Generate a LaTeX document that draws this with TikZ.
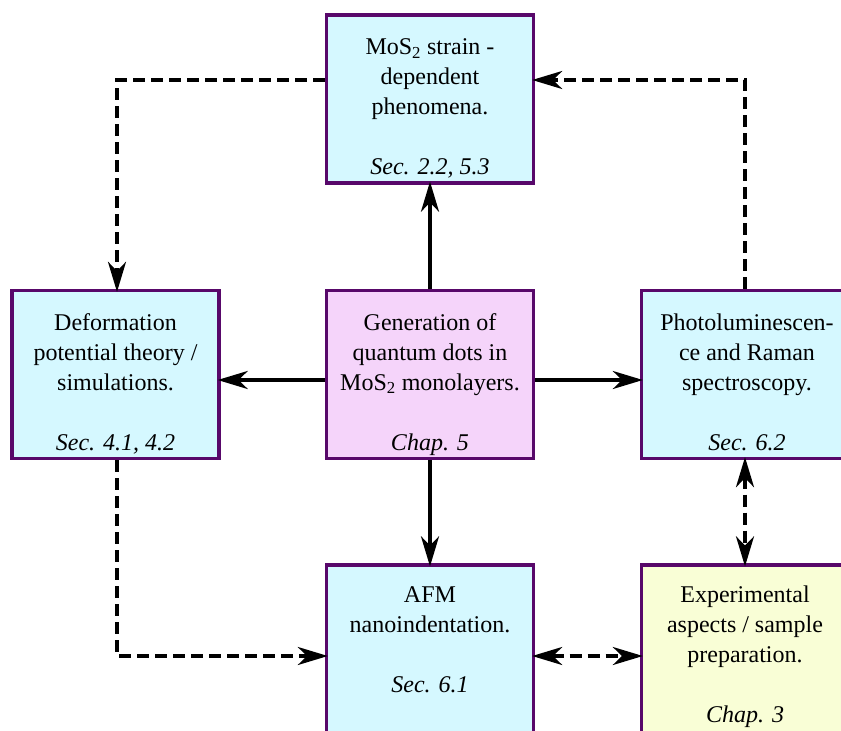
\documentclass[tikz,border=0pt]{standalone}
\usepackage{fontspec}
\setmainfont{Liberation Serif}
\usetikzlibrary{arrows.meta}
\definecolor{bordc}{RGB}{88,8,106}
\definecolor{cyanf}{RGB}{213,248,255}
\definecolor{pinkf}{RGB}{245,212,250}
\definecolor{yellf}{RGB}{249,254,214}
\tikzset{
  box/.style={draw=bordc, line width=3.3pt, minimum width=207pt, minimum height=168pt, inner sep=0pt},
  txt/.style={anchor=north, align=center, inner sep=0pt, font=\fontsize{24}{30}\selectfont},
  tip/.tip={Stealth[length=30pt, width=18pt, inset=9pt]},
  conn/.style={line width=3.3pt, -tip, shorten >=-3pt},
  dconn/.style={conn, dash pattern=on 12pt off 6pt},
  ddconn/.style={dconn, tip-tip, shorten <=-3pt}
}
\begin{document}
\begin{tikzpicture}[x=1pt, y=-1pt]
\useasboundingbox (0,0) rectangle (841,731);
\clip (0,0) rectangle (841,731);
% boxes
\node[box, fill=cyanf] (t) at (430,99) {};
\node[box, fill=cyanf] (l) at (115.5,374.5) {};
\node[box, fill=pinkf] (c) at (430,374.5) {};
\node[box, fill=cyanf] (r) at (745,374.5) {};
\node[box, fill=cyanf] (b) at (430,649) {};
\node[box, fill=yellf] (e) at (745,649) {};
% texts
\node[txt] (tt) at ([yshift=-20pt]t.north) {\strut MoS\textsubscript{2} strain -\\dependent\\phenomena.\\[30pt]\textit{Sec. 2.2, 5.3}};
\node[txt] (lt) at ([yshift=-20pt]l.north) {\strut Deformation\\potential theory /\\simulations.\\[30pt]\textit{Sec. 4.1, 4.2}};
\node[txt] (ct) at ([yshift=-20pt]c.north) {\strut Generation of\\quantum dots in\\MoS\textsubscript{2} monolayers.\\[30pt]\textit{Chap. 5}};
\node[txt] (rt) at ([yshift=-20pt,xshift=2pt]r.north) {\strut Photoluminescen-\\ce and Raman\\spectroscopy.\\[30pt]\textit{Sec. 6.2}};
\node[txt] (bt) at ([yshift=-18pt]b.north) {\strut AFM\\nanoindentation.\\[30pt]\textit{Sec. 6.1}};
\node[txt] (et) at ([yshift=-18pt]e.north) {\strut Experimental\\aspects / sample\\preparation.\\[30pt]\textit{Chap. 3}};
% solid connectors
\draw[conn] (c.north) -- (t.south);
\draw[conn] ([yshift=-5.5pt]c.west) -- ([yshift=-5.5pt]l.east);
\draw[conn] ([yshift=-5.5pt]c.east) -- ([yshift=-5.5pt]r.west);
\draw[conn] (c.south) -- (b.north);
% dashed connectors
\draw[dconn] ([yshift=19pt]t.west) -| ([xshift=1.5pt]l.north);
\draw[dconn] (r.north) |- ([yshift=19pt]t.east);
\draw[dconn] ([xshift=1.5pt]l.south) |- ([yshift=-7pt]b.west);
\draw[ddconn] ([yshift=-7pt]b.east) -- ([yshift=-7pt]e.west);
\draw[ddconn] (r.south) -- (e.north);
\end{tikzpicture}
\end{document}
